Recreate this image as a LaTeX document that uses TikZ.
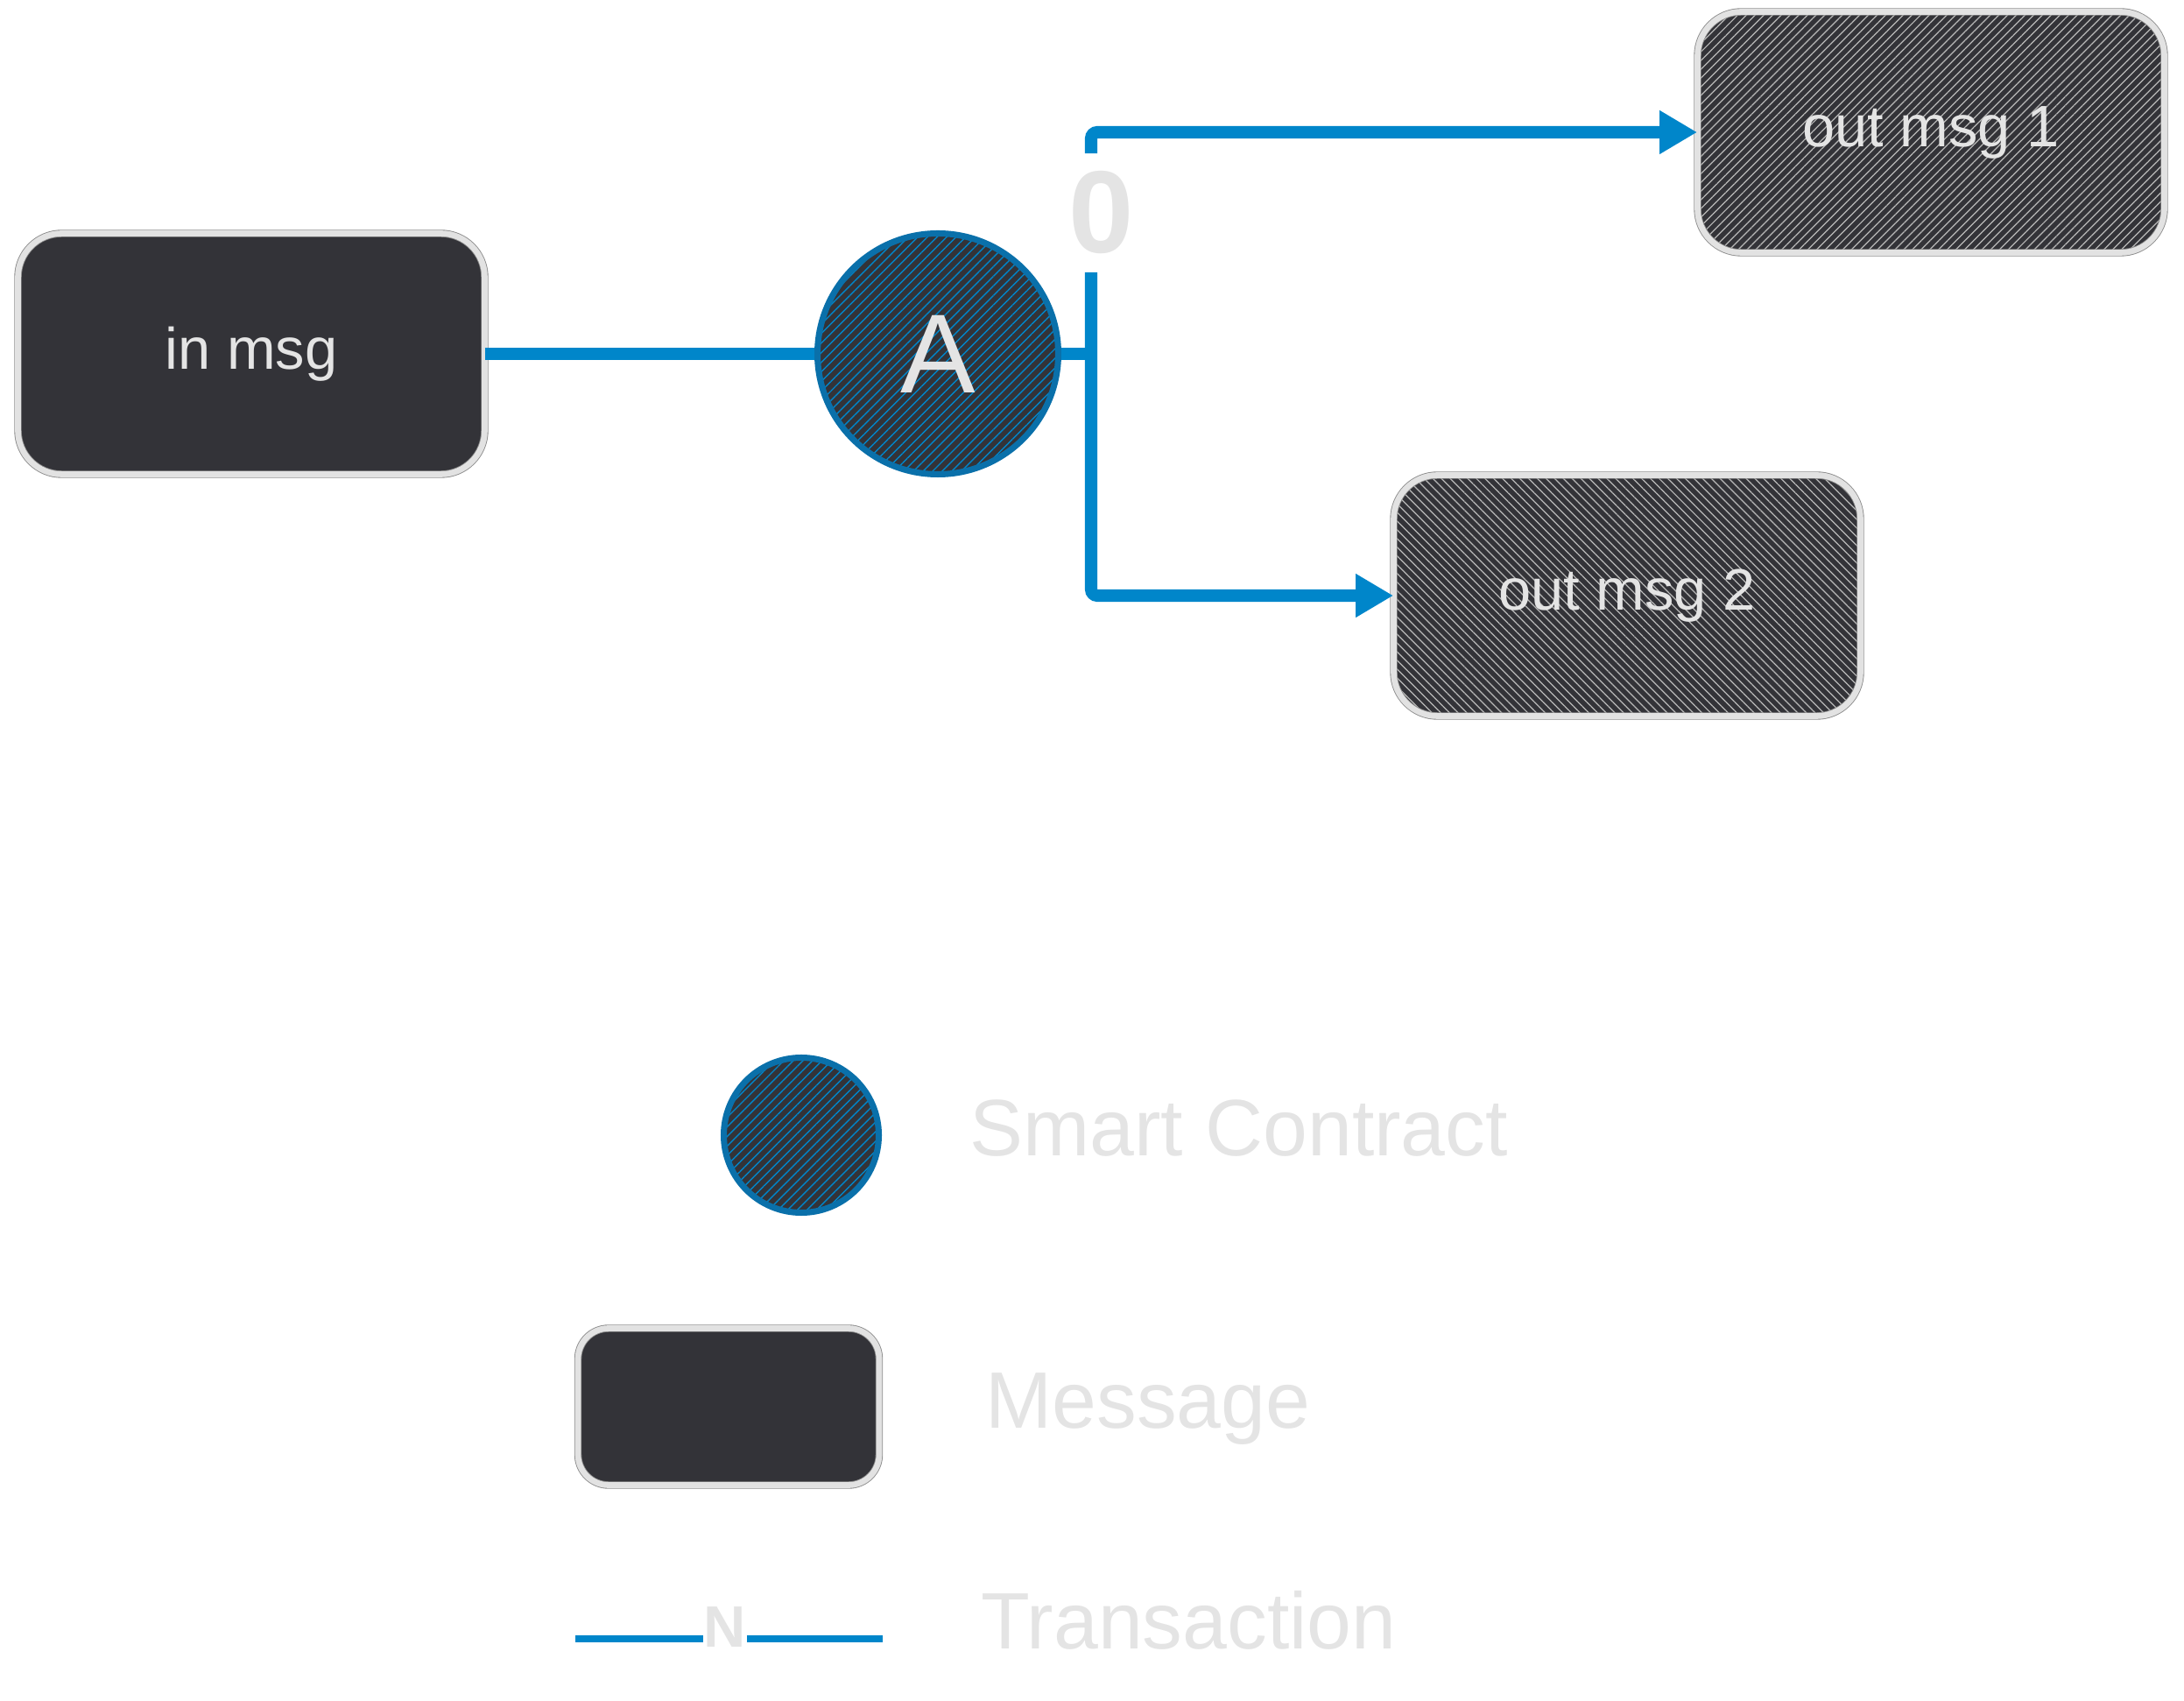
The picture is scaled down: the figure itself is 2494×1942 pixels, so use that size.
\documentclass[tikz,border=0pt]{standalone}
\usepackage{fontspec}
\setmainfont{Liberation Sans}
\usetikzlibrary{arrows.meta,patterns.meta}

\definecolor{msgdark}{RGB}{51,51,56}
\definecolor{msgedge}{RGB}{226,226,226}
\definecolor{txblue}{RGB}{0,134,202}
\definecolor{scblue}{RGB}{10,112,170}
\definecolor{lighttext}{RGB}{228,228,228}
\definecolor{hatchgray}{RGB}{185,185,185}

\begin{document}
\begin{tikzpicture}[
    x=0.1mm, y=-0.1mm,
    message/.style={rectangle, rounded corners=5mm, minimum width=5.33cm, minimum height=2.75cm, inner sep=0pt,
        preaction={fill=msgdark}, draw=black!45, line width=0.25pt, double=msgedge, double distance=1.9pt,
        text=lighttext, font=\fontsize{19}{22}\selectfont},
    hatched/.style={preaction={pattern={Lines[angle=#1, distance=2pt, line width=0.35pt]}, pattern color=hatchgray}},
    contract/.style={circle, inner sep=0pt, preaction={fill=msgdark},
        preaction={pattern={Lines[angle=45, distance=2.2pt, line width=0.4pt]}, pattern color=txblue},
        draw=scblue, line width=2pt, text=lighttext},
    tx/.style={draw=txblue, line width=4pt},
    txarrow/.style={tx, rounded corners=2pt, -{Triangle[length=4.3mm, width=4.7mm]}},
    legend text/.style={anchor=base west, text=lighttext, font=\fontsize{26}{30}\selectfont}
    ]
    \useasboundingbox (0,0) rectangle (2494,1942);

    % messages and contract
    \node[message] (in) at (287,404) {in msg};
    \node[contract, minimum size=2.75cm, font=\fontsize{36.5}{40}\selectfont] (A) at (1071,404) {A};
    \node[message, hatched=45] (out1) at (2205,151) {out msg 1};
    \node[message, hatched=-45] (out2) at (1858,680) {out msg 2};
    \coordinate (junc) at (1246,404);
    \node[text=lighttext, font=\bfseries\fontsize{38}{40}\selectfont, inner xsep=0pt, inner ysep=2mm] (zero) at (1258,243) {0};

    % transaction
    \draw[tx] (in.east) -- (A.west);
    \draw[tx] (A.east) -- (junc);
    \draw[txarrow] (zero.north -| junc) |- (out1.west);
    \draw[txarrow] (zero.south -| junc) |- (out2.west);

    % legend
    \node[contract, minimum size=1.77cm] (legsc) at (915,1296) {};
    \node[message, rounded corners=3.5mm, minimum width=3.44cm, minimum height=1.79cm] (legmsg) at (832,1606) {};
    \coordinate (legtxa) at (657,1871);
    \coordinate (legtxb) at (1008,1871);
    \node[text=lighttext, font=\bfseries\fontsize{19}{20}\selectfont, inner sep=0pt] (legn) at (828,1858) {N};
    \draw[draw=txblue, line width=2pt] (legtxa) -- (legtxa -| legn.west);
    \draw[draw=txblue, line width=2pt] (legtxb -| legn.east) -- (legtxb);

    \node[legend text] (sctext) at (1095,1320) {Smart Contract};
    \node[legend text] (msgtext) at (1113,1630) {Message};
    \node[legend text] (txtext) at (1108,1882) {Transaction};
\end{tikzpicture}
\end{document}
